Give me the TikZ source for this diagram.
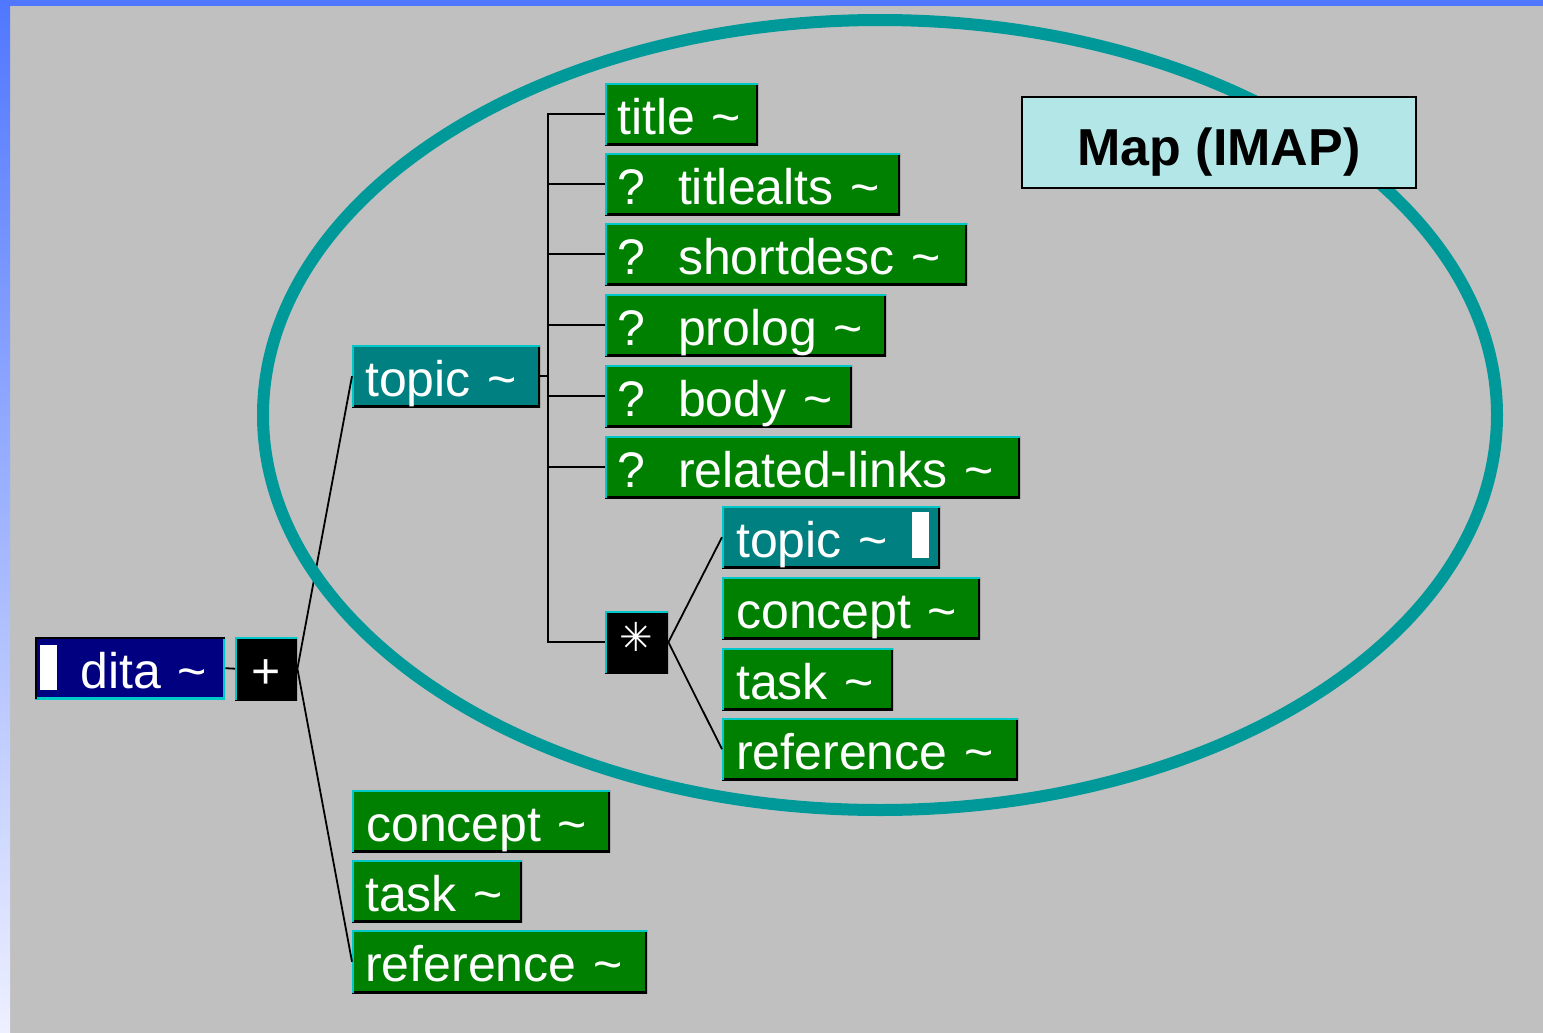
\documentclass[tikz,border=0pt]{standalone}
\usepackage{fontspec}
\setmainfont{Liberation Sans}
\newfontfamily\djv{DejaVu Sans}
\newcommand{\lbx}[1]{\makebox[\linewidth][l]{#1}}
\definecolor{bgray}{HTML}{C0C0C0}
\definecolor{topblue}{HTML}{5077FF}
\definecolor{botblue}{HTML}{EEF0FF}
\definecolor{gbox}{HTML}{008000}
\definecolor{tbox}{HTML}{008080}
\definecolor{nbox}{HTML}{000080}
\definecolor{edgecyan}{HTML}{00C8C8}
\definecolor{ringteal}{HTML}{009999}
\definecolor{mapfill}{HTML}{B3E6E6}
\tikzset{
  raised/.style={path picture={
    \draw[black,line width=5pt] (path picture bounding box.south west) -- (path picture bounding box.south east) -- (path picture bounding box.north east);
    \draw[edgecyan,line width=3pt] (path picture bounding box.south west) -- (path picture bounding box.north west) -- (path picture bounding box.north east);}},
  sunken/.style={path picture={
    \draw[edgecyan,line width=4pt] (path picture bounding box.south west) -- (path picture bounding box.south east) -- (path picture bounding box.north east);
    \draw[black,line width=4pt] (path picture bounding box.south west) -- (path picture bounding box.north west) -- (path picture bounding box.north east);}},
  elem/.style={anchor=north west, inner xsep=12pt, inner ysep=0pt, text height=51pt, text depth=11pt,
    minimum height=62pt, text=white, align=left, font=\fontsize{50}{50}\selectfont, raised},
  gel/.style={elem, fill=gbox},
  tel/.style={elem, fill=tbox},
  bel/.style={elem, fill=black, align=center},
  conn/.style={draw=black, line width=1.8pt},
}
\begin{document}
\begin{tikzpicture}[x=1pt,y=-1pt]
\useasboundingbox (0,0) rectangle (1543,1033);
% background
\fill[bgray] (0,0) rectangle (1543,1033);
\shade[top color=topblue, bottom color=botblue] (0,0) rectangle (10,1033);
\fill[topblue] (0,0) rectangle (1543,6);

% root
\node[elem, fill=nbox, sunken, inner xsep=5pt, text width=180pt] (dita) at (35,637)
  {\lbx{\raisebox{-2pt}{\rule{17pt}{45pt}}\hspace{23pt}dita \textasciitilde}};
\node[bel, text width=38pt, minimum height=63pt] (plus) at (235,637) {+};

% level 1
\node[tel, inner xsep=13pt, text width=162pt] (topic) at (352,345) {\lbx{topic \textasciitilde}};
\node[gel, inner xsep=14pt, text width=230pt] (concept) at (352,790) {\lbx{concept \textasciitilde}};
\node[gel, inner xsep=13pt, text width=144pt] (task) at (352,860) {\lbx{task \textasciitilde}};
\node[gel, inner xsep=13pt, text width=269pt, minimum height=63pt] (reference) at (352,930) {\lbx{reference \textasciitilde}};

% level 2
\node[gel, text width=129pt] (title) at (605,83) {\lbx{title \textasciitilde}};
\node[gel, text width=271pt] (titlealts) at (605,153) {\lbx{?\hspace{33pt}titlealts \textasciitilde}};
\node[gel, text width=338pt] (shortdesc) at (605,223) {\lbx{?\hspace{33pt}shortdesc \textasciitilde}};
\node[gel, text width=257pt] (prolog) at (605,294) {\lbx{?\hspace{33pt}prolog \textasciitilde}};
\node[gel, text width=223pt] (body) at (605,365) {\lbx{?\hspace{33pt}body \textasciitilde}};
\node[gel, text width=391pt] (related) at (605,436) {\lbx{?\hspace{33pt}related-links \textasciitilde}};
\node[bel, inner xsep=4pt, text width=55pt, text height=40pt, text depth=22pt] (star) at (605,611) {\djv\fontsize{40}{40}\selectfont ✳};

% level 3
\node[tel, inner xsep=14pt, text width=190pt] (ctopic) at (722,506)
  {\lbx{topic \textasciitilde\hspace{24pt}\raisebox{-1pt}{\rule{17pt}{46pt}}}};
\node[gel, inner xsep=14pt, text width=230pt] (cconcept) at (722,577) {\lbx{concept \textasciitilde}};
\node[gel, inner xsep=14pt, text width=143pt] (ctask) at (722,648) {\lbx{task \textasciitilde}};
\node[gel, inner xsep=14pt, text width=268pt] (creference) at (722,718) {\lbx{reference \textasciitilde}};

% connectors
\draw[conn] (dita.east) -- (plus.west);
\draw[conn] (plus.east) -- (topic.west);
\draw[conn] (plus.east) -- (reference.west);
\coordinate (trunk) at (548,113);
\draw[conn] (topic.east) -- (topic.east -| trunk);
\draw[conn] (title.west) -| (trunk) |- (star.west);
\foreach \n in {titlealts,shortdesc,prolog,body,related}
  \draw[conn] (\n.west) -- (\n.west -| trunk);
\draw[conn] (star.east) -- (ctopic.west);
\draw[conn] (star.east) -- (creference.west);

% highlight ring
\draw[ringteal, line width=12pt] (880,415) ellipse [x radius=617, y radius=395];

% label box
\node[draw=black, line width=2pt, fill=mapfill, minimum width=394pt, minimum height=91pt,
  text height=50pt, text depth=5pt,
  font=\fontsize{52}{52}\selectfont\bfseries] (map) at (1219,142.5) {Map (IMAP)};
\end{tikzpicture}
\end{document}
